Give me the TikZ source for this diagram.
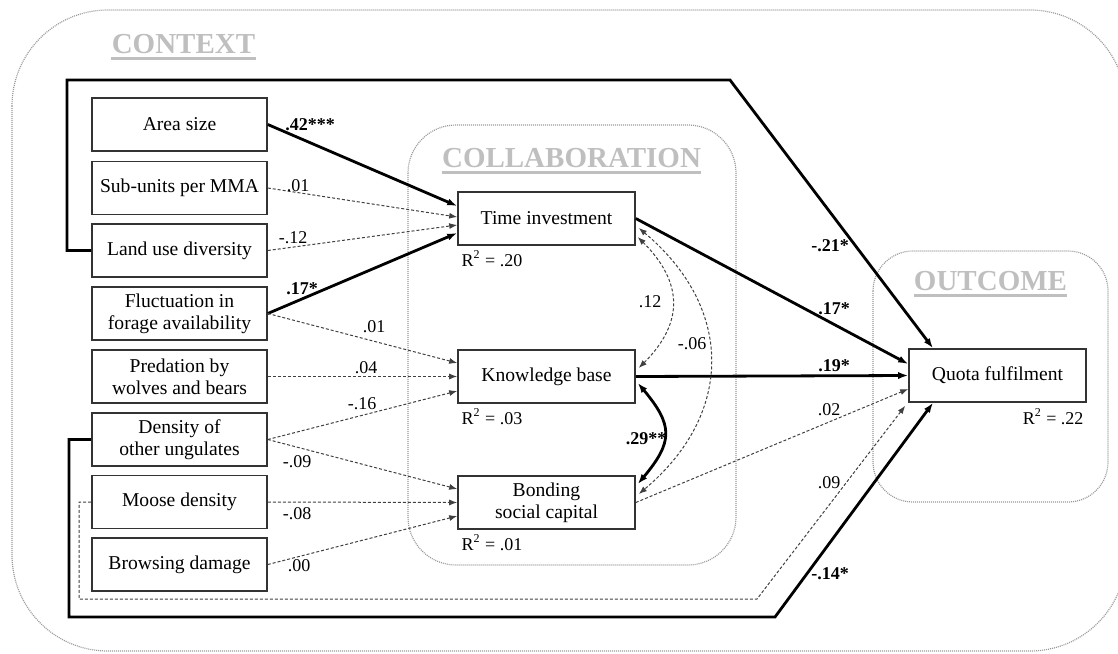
\documentclass[tikz,border=0pt]{standalone}
\usepackage{fontspec}
\setmainfont{Liberation Serif}
\usetikzlibrary{arrows.meta}
\usetikzlibrary{calc}

\tikzset{
  var/.style={draw=black!80, line width=0.8pt, minimum width=87.5pt, minimum height=26.5pt,
    inner sep=0pt, align=center, font=\fontsize{9.8}{11}\selectfont},
  sigpath/.style={line width=1.4pt, -{Latex[length=5pt,width=3.6pt]}},
  sigcorr/.style={line width=1.4pt, {Latex[length=5pt,width=3.6pt]}-{Latex[length=5pt,width=3.6pt]}},
  nspath/.style={black!75, line width=0.5pt, dash pattern=on 1.5pt off 1pt, -{Latex[length=4pt,width=3pt]}},
  nscorr/.style={black!75, line width=0.5pt, dash pattern=on 1.5pt off 1pt, {Latex[length=4pt,width=3pt]}-{Latex[length=4pt,width=3pt]}},
  group/.style={draw=black!40, line width=0.6pt, dash pattern=on 0.5pt off 0.5pt},
  grouphead/.style={anchor=base, inner sep=0pt, text=black!25, font=\fontsize{14.5}{16}\selectfont\bfseries},
  headrule/.style={draw=black!25, line width=1.5pt},
  coef/.style={inner sep=0pt, font=\fontsize{9}{10}\selectfont},
  coefb/.style={inner sep=0pt, font=\fontsize{9}{10}\selectfont\bfseries},
}

\begin{document}
\begin{tikzpicture}[x=0.5pt, y=-0.5pt]
  \useasboundingbox (0,0) rectangle (1118,653);

  % group frames
  \draw[group, rounded corners=48pt] (12,10) rectangle (1126,651);
  \draw[group, rounded corners=24pt] (408,125) rectangle (736,565);
  \draw[group, rounded corners=20pt] (873,251) rectangle (1108,502);
  \node[grouphead] (ctxhead) at (183.5,53) {CONTEXT};
  \node[grouphead] (colhead) at (571.5,167) {COLLABORATION};
  \node[grouphead] (outhead) at (990.5,290) {OUTCOME};
  \draw[headrule] ([yshift=-2.6pt]ctxhead.base west) -- ([yshift=-2.6pt]ctxhead.base east);
  \draw[headrule] ([yshift=-2.6pt]colhead.base west) -- ([yshift=-2.6pt]colhead.base east);
  \draw[headrule] ([yshift=-2.6pt]outhead.base west) -- ([yshift=-2.6pt]outhead.base east);

  % context variables
  \node[var] (area) at (179.5,124.5) {Area size};
  \node[var] (subunits) at (179.5,188) {Sub-units per MMA};
  \node[var] (landuse) at (179.5,250.5) {Land use diversity};
  \node[var] (fluct) at (179.5,313.5) {Fluctuation in\\forage availability};
  \node[var] (pred) at (179.5,376.5) {Predation by\\wolves and bears};
  \node[var] (dens) at (179.5,439.5) {Density of\\other ungulates};
  \node[var] (moose) at (179.5,502) {Moose density};
  \node[var] (browse) at (179.5,564.5) {Browsing damage};

  % collaboration and outcome
  \node[var, minimum width=88.5pt] (time) at (546.5,218.5) {Time investment};
  \node[var, minimum width=88.5pt] (know) at (546.5,376.5) {Knowledge base};
  \node[var, minimum width=88.5pt] (bond) at (546.5,502.5) {Bonding\\social capital};
  \node[var, minimum width=88.5pt] (quota) at (997.5,375.5) {Quota fulfilment};

  \node[coef, anchor=west] (r2time) at ($(time.south west)+(4,13)$) {R\textsuperscript{2} = .20};
  \node[coef, anchor=west] (r2know) at ($(know.south west)+(4,13)$) {R\textsuperscript{2} = .03};
  \node[coef, anchor=west] (r2bond) at ($(bond.south west)+(4,13)$) {R\textsuperscript{2} = .01};
  \node[coef, anchor=east] (r2quota) at ($(quota.south east)+(-3,14)$) {R\textsuperscript{2} = .22};

  % paths into time investment
  \draw[sigpath] (area.east) -- ($(time.west)+(0,-12.5)$);
  \draw[nspath] (subunits.east) -- ($(time.west)+(0,-1.5)$);
  \draw[nspath] (landuse.east) -- ($(time.west)+(0,6.5)$);
  \draw[sigpath] (fluct.east) -- ($(time.west)+(0,14.5)$);
  % paths into knowledge base
  \draw[nspath] (fluct.east) -- ($(know.west)+(0,-13.5)$);
  \draw[nspath] (pred.east) -- (know.west);
  \draw[nspath] (dens.east) -- ($(know.west)+(0,14.5)$);
  % paths into bonding social capital
  \draw[nspath] (dens.east) -- ($(bond.west)+(0,-13.5)$);
  \draw[nspath] (moose.east) -- (bond.west);
  \draw[nspath] (browse.east) -- ($(bond.west)+(0,13.5)$);

  % paths into quota fulfilment
  \draw[sigpath] (time.east) -- ($(quota.west)+(0,-11.5)$);
  \draw[sigpath] (know.east) -- (quota.west);
  \draw[nspath] (bond.east) -- ($(quota.west)+(0,13.5)$);

  \coordinate (lucorner) at (67,80);
  \coordinate (lubend) at (730,80);
  \draw[sigpath] (landuse.west) -| (lucorner) -- (lubend) -- ($(quota.north)+(-64.5,0)$);
  \coordinate (dncorner) at (69,617);
  \coordinate (dnbend) at (775,617);
  \draw[sigpath] (dens.west) -| (dncorner) -- (dnbend) -- ($(quota.south)+(-64.5,0)$);
  \coordinate (mscorner) at (79,599);
  \coordinate (msbend) at (757,599);
  \draw[nspath] (moose.west) -| (mscorner) -- (msbend) -- ($(quota.south west)+(-3,3)$);

  % correlations
  \draw[nscorr] ($(time.east)+(2,18.5)$) to[out=-45, in=45, looseness=1.25] ($(know.east)+(3,-8.5)$);
  \draw[nscorr] ($(time.east)+(3,9.5)$) to[out=-40, in=40, looseness=1.2] ($(bond.east)+(3,-8.5)$);
  \draw[sigcorr] ($(know.east)+(2,6.5)$) to[out=-50, in=50, looseness=1.4] ($(bond.east)+(2,-18.5)$);

  % coefficients
  \node[coefb] (c-area) at (310,125) {.42***};
  \node[coef] (c-sub) at (298,186) {.01};
  \node[coef] (c-land) at (293,238) {-.12};
  \node[coefb] (c-fluct) at (302,289) {.17*};
  \node[coef] (c-fluctk) at (374,327) {.01};
  \node[coef] (c-pred) at (366,368) {.04};
  \node[coef] (c-densk) at (362,404) {-.16};
  \node[coef] (c-densb) at (297,462) {-.09};
  \node[coef] (c-moose) at (297,514) {-.08};
  \node[coef] (c-browse) at (299,566) {.00};
  \node[coefb] (c-landq) at (830,246) {-.21*};
  \node[coefb] (c-timeq) at (834,309) {.17*};
  \node[coefb] (c-knowq) at (834,366) {.19*};
  \node[coef] (c-bondq) at (829,410) {.02};
  \node[coef] (c-mooseq) at (829,483) {.09};
  \node[coefb] (c-densq) at (830,574) {-.14*};
  \node[coef] (c-tk) at (650,302) {.12};
  \node[coef] (c-tb) at (692,344) {-.06};
  \node[coefb] (c-kb) at (646,439) {.29**};
\end{tikzpicture}
\end{document}
